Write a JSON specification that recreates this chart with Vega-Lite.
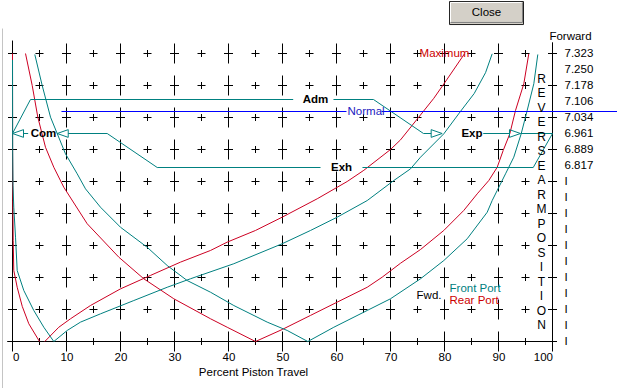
{
  "$schema": "https://vega.github.io/schema/vega-lite/v6.json",
  "width": 540,
  "height": 288,
  "autosize": {"type": "none"},
  "padding": {"left": 12.5, "top": 53.5, "right": 64.5, "bottom": 46.5},
  "background": "white",
  "config": {
    "view": {"stroke": null},
    "font": "Liberation Sans, Arial, sans-serif"
  },
  "datasets": {
    "gridMajor": [
      {"x": 0, "y": [0,2,4,6,8,10,12,14,16,18]},
      {"x": 10, "y": [0,2,4,6,8,10,12,14,16,18]},
      {"x": 20, "y": [0,2,4,6,8,10,12,14,16,18]},
      {"x": 30, "y": [0,2,4,6,8,10,12,14,16,18]},
      {"x": 40, "y": [0,2,4,6,8,10,12,14,16,18]},
      {"x": 50, "y": [0,2,4,6,8,10,12,14,16,18]},
      {"x": 60, "y": [0,2,4,6,8,10,12,14,16,18]},
      {"x": 70, "y": [0,2,4,6,8,10,12,14,16,18]},
      {"x": 80, "y": [0,2,4,6,8,10,12,14,16,18]},
      {"x": 90, "y": [0,2,4,6,8,10,12,14,16,18]},
      {"x": 100, "y": [0,2,4,6,8,10,12,14,16,18]}
    ],
    "gridMinor": [
      {"x": 5, "y": [0,2,4,6,8,10,12,14,16,18]},
      {"x": 15, "y": [0,2,4,6,8,10,12,14,16,18]},
      {"x": 25, "y": [0,2,4,6,8,10,12,14,16,18]},
      {"x": 35, "y": [0,2,4,6,8,10,12,14,16,18]},
      {"x": 45, "y": [0,2,4,6,8,10,12,14,16,18]},
      {"x": 55, "y": [0,2,4,6,8,10,12,14,16,18]},
      {"x": 65, "y": [0,2,4,6,8,10,12,14,16,18]},
      {"x": 75, "y": [0,2,4,6,8,10,12,14,16,18]},
      {"x": 85, "y": [0,2,4,6,8,10,12,14,16,18]},
      {"x": 95, "y": [0,2,4,6,8,10,12,14,16,18]}
    ],
    "axisLines": [
      {"x": 0, "x2": 0, "y": 18.81, "y2": -0.56},
      {"x": 100, "x2": 100, "y": 18.7, "y2": -0.56},
      {"x": -0.98, "x2": 100.74, "y": 0, "y2": 0}
    ],
    "border": [
      {"x": -1.85, "x2": -1.85, "y": 19.56, "y2": -2.94}
    ],
    "curves": [
      {"c": "F", "p": "Rear", "i": 0, "x": 0, "y": 18},
      {"c": "F", "p": "Rear", "i": 1, "x": 0.02, "y": 12},
      {"c": "F", "p": "Rear", "i": 2, "x": 0.06, "y": 8.8},
      {"c": "F", "p": "Rear", "i": 3, "x": 0.13, "y": 6.31},
      {"c": "F", "p": "Rear", "i": 4, "x": 0.24, "y": 4.44},
      {"c": "F", "p": "Rear", "i": 5, "x": 0.87, "y": 3.39},
      {"c": "F", "p": "Rear", "i": 6, "x": 1.8, "y": 2.2},
      {"c": "F", "p": "Rear", "i": 7, "x": 3.02, "y": 1.11},
      {"c": "F", "p": "Rear", "i": 8, "x": 5, "y": 0},

      {"c": "A", "p": "Rear", "i": 0, "x": 2.41, "y": 18},
      {"c": "A", "p": "Rear", "i": 1, "x": 3.65, "y": 16},
      {"c": "A", "p": "Rear", "i": 2, "x": 4.69, "y": 14.02},
      {"c": "A", "p": "Rear", "i": 3, "x": 6.11, "y": 12.14},
      {"c": "A", "p": "Rear", "i": 4, "x": 7.65, "y": 10.89},
      {"c": "A", "p": "Rear", "i": 5, "x": 9.5, "y": 9.64},
      {"c": "A", "p": "Rear", "i": 6, "x": 13.83, "y": 7.36},
      {"c": "A", "p": "Rear", "i": 7, "x": 19.69, "y": 5.27},
      {"c": "A", "p": "Rear", "i": 8, "x": 24.31, "y": 3.92},
      {"c": "A", "p": "Rear", "i": 9, "x": 29.87, "y": 2.67},
      {"c": "A", "p": "Rear", "i": 10, "x": 36.67, "y": 1.42},
      {"c": "A", "p": "Rear", "i": 11, "x": 39.76, "y": 0.89},
      {"c": "A", "p": "Rear", "i": 12, "x": 45, "y": 0},

      {"c": "C", "p": "Rear", "i": 0, "x": 45, "y": 0},
      {"c": "C", "p": "Rear", "i": 1, "x": 49.94, "y": 0.75},
      {"c": "C", "p": "Rear", "i": 2, "x": 55.19, "y": 1.63},
      {"c": "C", "p": "Rear", "i": 3, "x": 60.13, "y": 2.46},
      {"c": "C", "p": "Rear", "i": 4, "x": 65.69, "y": 3.39},
      {"c": "C", "p": "Rear", "i": 5, "x": 68.46, "y": 4.02},
      {"c": "C", "p": "Rear", "i": 6, "x": 71.85, "y": 4.89},
      {"c": "C", "p": "Rear", "i": 7, "x": 75.56, "y": 5.75},
      {"c": "C", "p": "Rear", "i": 8, "x": 79.87, "y": 6.94},
      {"c": "C", "p": "Rear", "i": 9, "x": 83.57, "y": 8.19},
      {"c": "C", "p": "Rear", "i": 10, "x": 86.06, "y": 9.23},
      {"c": "C", "p": "Rear", "i": 11, "x": 88.2, "y": 10.06},
      {"c": "C", "p": "Rear", "i": 12, "x": 89.76, "y": 10.89},
      {"c": "C", "p": "Rear", "i": 13, "x": 90.87, "y": 11.94},
      {"c": "C", "p": "Rear", "i": 14, "x": 92.09, "y": 12.98},
      {"c": "C", "p": "Rear", "i": 15, "x": 93.15, "y": 14.44},
      {"c": "C", "p": "Rear", "i": 16, "x": 94.69, "y": 16.11},
      {"c": "C", "p": "Rear", "i": 17, "x": 95.61, "y": 17.98},

      {"c": "D", "p": "Rear", "i": 0, "x": 5.98, "y": 0},
      {"c": "D", "p": "Rear", "i": 1, "x": 8.57, "y": 0.89},
      {"c": "D", "p": "Rear", "i": 2, "x": 10.74, "y": 1.42},
      {"c": "D", "p": "Rear", "i": 3, "x": 14.44, "y": 2.25},
      {"c": "D", "p": "Rear", "i": 4, "x": 20, "y": 3.29},
      {"c": "D", "p": "Rear", "i": 5, "x": 25.56, "y": 4.13},
      {"c": "D", "p": "Rear", "i": 6, "x": 31.11, "y": 4.96},
      {"c": "D", "p": "Rear", "i": 7, "x": 36.67, "y": 5.69},
      {"c": "D", "p": "Rear", "i": 8, "x": 39.76, "y": 6.21},
      {"c": "D", "p": "Rear", "i": 9, "x": 45, "y": 6.94},
      {"c": "D", "p": "Rear", "i": 10, "x": 49.94, "y": 7.77},
      {"c": "D", "p": "Rear", "i": 11, "x": 56.43, "y": 8.92},
      {"c": "D", "p": "Rear", "i": 12, "x": 61.98, "y": 10.0},
      {"c": "D", "p": "Rear", "i": 13, "x": 65.06, "y": 10.7},
      {"c": "D", "p": "Rear", "i": 14, "x": 70, "y": 12.0},
      {"c": "D", "p": "Rear", "i": 15, "x": 71.85, "y": 12.6},
      {"c": "D", "p": "Rear", "i": 16, "x": 74.94, "y": 13.9},
      {"c": "D", "p": "Rear", "i": 17, "x": 78.02, "y": 15.2},
      {"c": "D", "p": "Rear", "i": 18, "x": 80.5, "y": 16.4},
      {"c": "D", "p": "Rear", "i": 19, "x": 83.7, "y": 17.98},

      {"c": "G", "p": "Front", "i": 0, "x": 0, "y": 17.6},
      {"c": "G", "p": "Front", "i": 1, "x": 0.03, "y": 12},
      {"c": "G", "p": "Front", "i": 2, "x": 0.09, "y": 9.75},
      {"c": "G", "p": "Front", "i": 3, "x": 0.24, "y": 8.39},
      {"c": "G", "p": "Front", "i": 4, "x": 0.56, "y": 6.52},
      {"c": "G", "p": "Front", "i": 5, "x": 0.87, "y": 4.44},
      {"c": "G", "p": "Front", "i": 6, "x": 2.09, "y": 3.19},
      {"c": "G", "p": "Front", "i": 7, "x": 3.94, "y": 1.94},
      {"c": "G", "p": "Front", "i": 8, "x": 5.8, "y": 0.89},
      {"c": "G", "p": "Front", "i": 9, "x": 7.65, "y": 0},

      {"c": "B", "p": "Front", "i": 0, "x": 4.13, "y": 17.94},
      {"c": "B", "p": "Front", "i": 1, "x": 5.5, "y": 16},
      {"c": "B", "p": "Front", "i": 2, "x": 7.04, "y": 14.02},
      {"c": "B", "p": "Front", "i": 3, "x": 9.81, "y": 11.73},
      {"c": "B", "p": "Front", "i": 4, "x": 11.98, "y": 10.48},
      {"c": "B", "p": "Front", "i": 5, "x": 13.52, "y": 9.54},
      {"c": "B", "p": "Front", "i": 6, "x": 16.3, "y": 8.39},
      {"c": "B", "p": "Front", "i": 7, "x": 20, "y": 7.14},
      {"c": "B", "p": "Front", "i": 8, "x": 24.94, "y": 5.89},
      {"c": "B", "p": "Front", "i": 9, "x": 28.65, "y": 4.75},
      {"c": "B", "p": "Front", "i": 10, "x": 32.35, "y": 3.81},
      {"c": "B", "p": "Front", "i": 11, "x": 36.67, "y": 3.08},
      {"c": "B", "p": "Front", "i": 12, "x": 40.98, "y": 2.25},
      {"c": "B", "p": "Front", "i": 13, "x": 47.17, "y": 1.21},
      {"c": "B", "p": "Front", "i": 14, "x": 50.87, "y": 0.69},
      {"c": "B", "p": "Front", "i": 15, "x": 54.69, "y": 0},

      {"c": "H", "p": "Front", "i": 0, "x": 54.69, "y": 0},
      {"c": "H", "p": "Front", "i": 1, "x": 59.5, "y": 0.89},
      {"c": "H", "p": "Front", "i": 2, "x": 65.69, "y": 1.94},
      {"c": "H", "p": "Front", "i": 3, "x": 70, "y": 2.67},
      {"c": "H", "p": "Front", "i": 4, "x": 75.56, "y": 3.92},
      {"c": "H", "p": "Front", "i": 5, "x": 79.87, "y": 5.06},
      {"c": "H", "p": "Front", "i": 6, "x": 84.2, "y": 6.42},
      {"c": "H", "p": "Front", "i": 7, "x": 87.91, "y": 8.08},
      {"c": "H", "p": "Front", "i": 8, "x": 88.83, "y": 8.81},
      {"c": "H", "p": "Front", "i": 9, "x": 89.76, "y": 9.44},
      {"c": "H", "p": "Front", "i": 10, "x": 91.3, "y": 10.48},
      {"c": "H", "p": "Front", "i": 11, "x": 92.83, "y": 11.52},
      {"c": "H", "p": "Front", "i": 12, "x": 94.2, "y": 12.98},
      {"c": "H", "p": "Front", "i": 13, "x": 95.31, "y": 14.44},
      {"c": "H", "p": "Front", "i": 14, "x": 96.54, "y": 16.11},
      {"c": "H", "p": "Front", "i": 15, "x": 97.28, "y": 17.94},

      {"c": "E", "p": "Front", "i": 0, "x": 7.65, "y": 0},
      {"c": "E", "p": "Front", "i": 1, "x": 10.13, "y": 0.69},
      {"c": "E", "p": "Front", "i": 2, "x": 12.59, "y": 1.21},
      {"c": "E", "p": "Front", "i": 3, "x": 16.3, "y": 1.73},
      {"c": "E", "p": "Front", "i": 4, "x": 22.46, "y": 2.56},
      {"c": "E", "p": "Front", "i": 5, "x": 28.65, "y": 3.39},
      {"c": "E", "p": "Front", "i": 6, "x": 32.96, "y": 3.92},
      {"c": "E", "p": "Front", "i": 7, "x": 40.98, "y": 4.86},
      {"c": "E", "p": "Front", "i": 8, "x": 49.94, "y": 6.11},
      {"c": "E", "p": "Front", "i": 9, "x": 55.19, "y": 6.94},
      {"c": "E", "p": "Front", "i": 10, "x": 60.13, "y": 7.77},
      {"c": "E", "p": "Front", "i": 11, "x": 65.69, "y": 8.81},
      {"c": "E", "p": "Front", "i": 12, "x": 70.61, "y": 10.06},
      {"c": "E", "p": "Front", "i": 13, "x": 73.7, "y": 10.79},
      {"c": "E", "p": "Front", "i": 14, "x": 75.56, "y": 11.52},
      {"c": "E", "p": "Front", "i": 15, "x": 79.87, "y": 12.98},
      {"c": "E", "p": "Front", "i": 16, "x": 82.96, "y": 14.38},
      {"c": "E", "p": "Front", "i": 17, "x": 85.5, "y": 15.5},
      {"c": "E", "p": "Front", "i": 18, "x": 87.6, "y": 16.8},
      {"c": "E", "p": "Front", "i": 19, "x": 88.83, "y": 17.98}
    ],
    "events": [
      {"s": "adm1", "i": 0, "x": 0, "y": 13},
      {"s": "adm1", "i": 1, "x": 3.33, "y": 15.125},
      {"s": "adm1", "i": 2, "x": 51.98, "y": 15.125},
      {"s": "adm2", "i": 0, "x": 59.44, "y": 15.125},
      {"s": "adm2", "i": 1, "x": 66.85, "y": 15.125},
      {"s": "adm2", "i": 2, "x": 76.11, "y": 13},
      {"s": "adm2", "i": 3, "x": 77.53, "y": 13},
      {"s": "com", "i": 0, "x": 2.04, "y": 13},
      {"s": "com", "i": 1, "x": 2.9, "y": 13},
      {"s": "exh1", "i": 0, "x": 10.32, "y": 13},
      {"s": "exh1", "i": 1, "x": 17.54, "y": 13},
      {"s": "exh1", "i": 2, "x": 26.8, "y": 10.875},
      {"s": "exh1", "i": 3, "x": 57.04, "y": 10.875},
      {"s": "exh2", "i": 0, "x": 64.81, "y": 10.875},
      {"s": "exh2", "i": 1, "x": 96.43, "y": 10.875},
      {"s": "exh2", "i": 2, "x": 100, "y": 13},
      {"s": "exh2", "i": 3, "x": 94.07, "y": 13},
      {"s": "exp", "i": 0, "x": 87.17, "y": 13},
      {"s": "exp", "i": 1, "x": 92.03, "y": 13}
    ],
    "normalLine": [
      {"s": "n1", "i": 0, "x": 9.07, "y": 14.375},
      {"s": "n1", "i": 1, "x": 61.85, "y": 14.375},
      {"s": "n2", "i": 0, "x": 68.33, "y": 14.375},
      {"s": "n2", "i": 1, "x": 112, "y": 14.375}
    ],
    "arrowsLeft": [
      {"x": 1.02, "y": 13},
      {"x": 9.3, "y": 13}
    ],
    "arrowsRight": [
      {"x": 78.55, "y": 13},
      {"x": 93.05, "y": 13}
    ],
    "eventLabels": [
      {"t": "Com", "x": 5.74, "y": 13},
      {"t": "Adm", "x": 56.11, "y": 15.125},
      {"t": "Exp", "x": 85.09, "y": 13},
      {"t": "Exh", "x": 60.93, "y": 10.875}
    ],
    "buttonLight": [
      {"x": 81.11, "x2": 94.26, "y": 21.19, "y2": 21.19},
      {"x": 81.11, "x2": 81.11, "y": 21.19, "y2": 19.94}
    ],
    "buttonShade": [
      {"x": 81.11, "x2": 94.44, "y": 19.94, "y2": 19.94},
      {"x": 94.44, "x2": 94.44, "y": 21.19, "y2": 19.94}
    ]
  },
  "encoding": {
    "x": {
      "field": "x",
      "type": "quantitative",
      "scale": {"domain": [0, 100], "nice": false, "zero": false},
      "axis": {
        "values": [0, 10, 20, 30, 40, 50, 60, 70, 80, 90, 100],
        "domain": false,
        "ticks": false,
        "grid": false,
        "labelFont": "Liberation Sans, Arial, sans-serif",
        "labelFontSize": 11.5,
        "labelColor": "black",
        "labelPadding": 10,
        "labelOverlap": false,
        "labelBound": false,
        "labelFlush": false,
        "labelAlign": {
          "condition": [
            {"test": "datum.value == 0", "value": "left"},
            {"test": "datum.value == 100", "value": "right"}
          ],
          "value": "center"
        },
        "title": "Percent Piston Travel",
        "titleFont": "Liberation Sans, Arial, sans-serif",
        "titleFontSize": 11.5,
        "titleFontWeight": "normal",
        "titleColor": "black",
        "titleX": 240.5,
        "titleY": 31,
        "titleAlign": "center",
        "titleBaseline": "middle"
      }
    },
    "y": {
      "field": "y",
      "type": "quantitative",
      "scale": {"domain": [0, 18], "nice": false, "zero": false},
      "axis": {
        "orient": "right",
        "values": [0, 1, 2, 3, 4, 5, 6, 7, 8, 9, 10, 11, 12, 13, 14, 15, 16, 17, 18],
        "labelExpr": "datum.value >= 11 ? ['6.817','6.889','6.961','7.034','7.106','7.178','7.250','7.323'][datum.value - 11] : 'I'",
        "domain": false,
        "ticks": false,
        "grid": false,
        "labelFont": "Liberation Sans, Arial, sans-serif",
        "labelFontSize": 11.5,
        "labelColor": "black",
        "labelAlign": "left",
        "labelBaseline": "middle",
        "labelPadding": 11.5,
        "labelOverlap": false,
        "labelBound": false,
        "labelFlush": false,
        "title": "Forward",
        "titleFont": "Liberation Sans, Arial, sans-serif",
        "titleFontSize": 11.5,
        "titleFontWeight": "normal",
        "titleColor": "black",
        "titleAngle": 0,
        "titleX": 17.5,
        "titleY": -17.5,
        "titleAlign": "center",
        "titleBaseline": "middle"
      }
    }
  },
  "layer": [
    {
      "data": {"name": "border"},
      "mark": {"type": "rule", "color": "#c4c4c4", "strokeWidth": 1},
      "encoding": {"x2": {"field": "x2"}, "y2": {"field": "y2"}}
    },
    {
      "data": {"name": "gridMajor"},
      "transform": [{"flatten": ["y"]}],
      "mark": {"type": "point", "shape": "M-0.45,0L0.45,0M0,-1L0,1", "size": 400, "filled": false, "stroke": "black", "strokeWidth": 1, "opacity": 1}
    },
    {
      "data": {"name": "gridMinor"},
      "transform": [{"flatten": ["y"]}],
      "mark": {"type": "point", "shape": "M-1,0L1,0M0,-0.875L0,0.875", "size": 64, "filled": false, "stroke": "black", "strokeWidth": 1, "opacity": 1}
    },
    {
      "data": {"name": "axisLines"},
      "mark": {"type": "rule", "color": "black", "strokeWidth": 1},
      "encoding": {"x2": {"field": "x2"}, "y2": {"field": "y2"}}
    },
    {
      "data": {"name": "curves"},
      "mark": {"type": "line", "strokeWidth": 1},
      "encoding": {
        "color": {"field": "p", "type": "nominal", "scale": {"domain": ["Rear", "Front"], "range": ["#cc0022", "#008080"]}, "legend": null},
        "detail": {"field": "c"},
        "order": {"field": "i", "type": "quantitative"}
      }
    },
    {
      "data": {"name": "events"},
      "mark": {"type": "line", "color": "#008080", "strokeWidth": 1},
      "encoding": {
        "detail": {"field": "s"},
        "order": {"field": "i", "type": "quantitative"}
      }
    },
    {
      "data": {"name": "normalLine"},
      "mark": {"type": "line", "color": "#0000ff", "strokeWidth": 1},
      "encoding": {
        "detail": {"field": "s"},
        "order": {"field": "i", "type": "quantitative"}
      }
    },
    {
      "data": {"name": "arrowsLeft"},
      "mark": {"type": "point", "shape": "M-1,0L1,-0.7L1,0.7Z", "size": 121, "filled": false, "stroke": "#008080", "strokeWidth": 1, "opacity": 1}
    },
    {
      "data": {"name": "arrowsRight"},
      "mark": {"type": "point", "shape": "M1,0L-1,-0.7L-1,0.7Z", "size": 121, "filled": false, "stroke": "#008080", "strokeWidth": 1, "opacity": 1}
    },
    {
      "data": {"name": "eventLabels"},
      "mark": {"type": "text", "fontSize": 11.5, "fontWeight": "bold", "color": "black", "align": "center", "baseline": "middle"},
      "encoding": {"text": {"field": "t"}}
    },
    {
      "data": {"values": [{"t": "Normal", "x": 62.04, "y": 14.375}]},
      "mark": {"type": "text", "fontSize": 11.5, "color": "#2020c0", "align": "left", "baseline": "middle"},
      "encoding": {"text": {"field": "t"}}
    },
    {
      "data": {"values": [{"t": "Maximum", "x": 80, "y": 18}]},
      "mark": {"type": "text", "fontSize": 11.5, "color": "#cc0000", "align": "center", "baseline": "middle"},
      "encoding": {"text": {"field": "t"}}
    },
    {
      "data": {"values": [{"t": "Rear Port", "x": 80.93, "y": 2.52}]},
      "mark": {"type": "text", "fontSize": 11.5, "color": "#cc0000", "align": "left", "baseline": "middle"},
      "encoding": {"text": {"field": "t"}}
    },
    {
      "data": {"values": [{"t": "Front Port", "x": 80.93, "y": 3.27}]},
      "mark": {"type": "text", "fontSize": 11.5, "color": "#008080", "align": "left", "baseline": "middle"},
      "encoding": {"text": {"field": "t"}}
    },
    {
      "data": {"values": [{"t": "Fwd.", "x": 77.13, "y": 2.875}]},
      "mark": {"type": "text", "fontSize": 11.5, "color": "black", "align": "center", "baseline": "middle"},
      "encoding": {"text": {"field": "t"}}
    },
    {
      "data": {"values": [{"t": "R\nE\nV\nE\nR\nS\nE\nA\nR\nM\nP\nO\nS\nI\nT\nI\nO\nN", "x": 97.96, "y": 16.72}]},
      "mark": {"type": "text", "fontSize": 12, "color": "black", "align": "center", "baseline": "top", "lineBreak": "\n", "lineHeight": 14.5},
      "encoding": {"text": {"field": "t"}}
    },
    {
      "data": {"values": [{"x": 80.93, "x2": 94.63, "y": 21.25, "y2": 19.81}]},
      "mark": {"type": "rect", "fill": "#d4d0c8", "stroke": "#202020", "strokeWidth": 1},
      "encoding": {"x2": {"field": "x2"}, "y2": {"field": "y2"}}
    },
    {
      "data": {"name": "buttonLight"},
      "mark": {"type": "rule", "color": "white", "strokeWidth": 1},
      "encoding": {"x2": {"field": "x2"}, "y2": {"field": "y2"}}
    },
    {
      "data": {"name": "buttonShade"},
      "mark": {"type": "rule", "color": "#808080", "strokeWidth": 1},
      "encoding": {"x2": {"field": "x2"}, "y2": {"field": "y2"}}
    },
    {
      "data": {"values": [{"t": "Close", "x": 87.78, "y": 20.56}]},
      "mark": {"type": "text", "fontSize": 11.5, "color": "black", "align": "center", "baseline": "middle"},
      "encoding": {"text": {"field": "t"}}
    }
  ]
}
